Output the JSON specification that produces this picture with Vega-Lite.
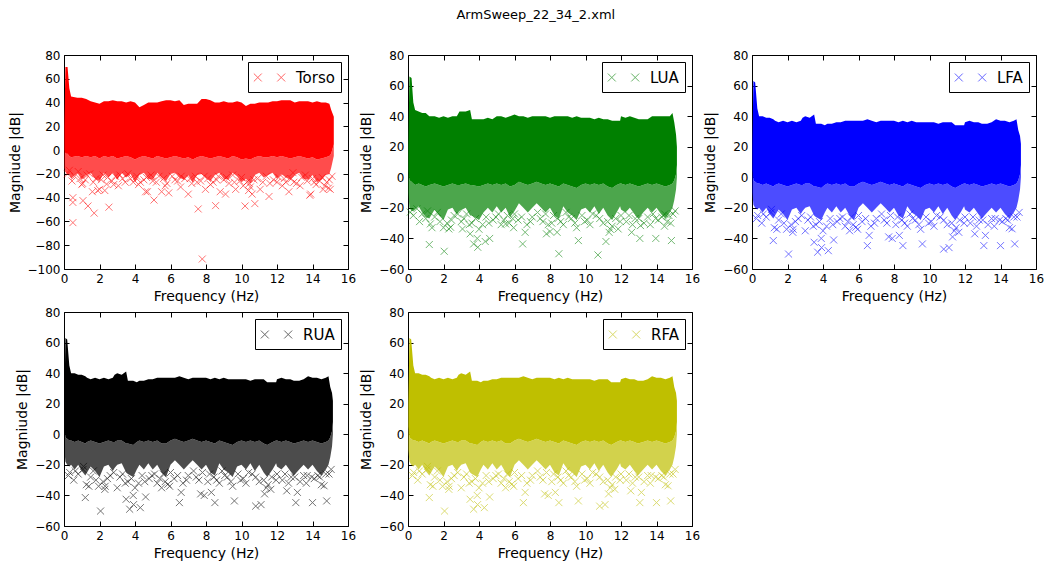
{
  "$schema": "https://vega.github.io/schema/vega-lite/v6.json",
  "background": "white",
  "padding": {"left": 7, "top": 8, "right": 0, "bottom": 0},
  "title": {"text": "ArmSweep_22_34_2.xml", "fontSize": 13, "fontWeight": "normal", "font": "DejaVu Sans", "color": "black", "anchor": "middle", "offset": 27, "dx": 10},
  "config": {
    "font": "DejaVu Sans",
    "view": {"stroke": "black", "strokeWidth": 1},
    "axis": {"labelFontSize": 12, "labelColor": "black", "titleFontSize": 14, "titleColor": "black", "titleFontWeight": "normal", "tickColor": "black", "tickSize": -5, "tickWidth": 1, "domain": false, "grid": false, "labelPadding": 9, "titlePadding": 5, "labelFlush": false},
    "legend": {"orient": "top-right", "offset": 7, "title": null, "strokeColor": "black", "strokeWidth": 1, "fillColor": "white", "padding": 6, "cornerRadius": 0, "labelFontSize": 15, "labelColor": "black", "labelFont": "DejaVu Sans", "symbolType": "M-1.74,-0.44L-0.86,0.44M-1.74,0.44L-0.86,-0.44M0.86,-0.44L1.74,0.44M0.86,0.44L1.74,-0.44", "symbolSize": 324, "symbolStrokeWidth": 1, "symbolOpacity": 0.6, "symbolOffset": 6, "labelOffset": 17}
  },
  "datasets": {
    "torsoBand": [
      {"f":0.02,"hi":20,"m":0,"l":-15},{"f":0.08,"hi":70,"m":-3,"l":-18},{"f":0.2,"hi":70,"m":-3,"l":-20},{"f":0.3,"hi":52,"m":-5,"l":-20},{"f":0.4,"hi":45,"m":-6,"l":-24},
      {"f":0.75,"hi":44,"m":-5,"l":-19},{"f":1.0,"hi":44,"m":-6,"l":-25},{"f":1.25,"hi":43,"m":-5,"l":-21},{"f":1.5,"hi":41,"m":-6,"l":-19},{"f":1.75,"hi":40,"m":-5,"l":-24},
      {"f":2.0,"hi":39,"m":-7,"l":-26},{"f":2.25,"hi":41,"m":-5,"l":-19},{"f":2.5,"hi":41,"m":-6,"l":-23},{"f":2.75,"hi":42,"m":-5,"l":-19},{"f":3.0,"hi":41,"m":-7,"l":-25},
      {"f":3.25,"hi":41,"m":-6,"l":-19},{"f":3.5,"hi":40,"m":-5,"l":-23},{"f":3.75,"hi":41,"m":-6,"l":-20},{"f":4.0,"hi":40,"m":-8,"l":-27},{"f":4.25,"hi":36,"m":-6,"l":-21},
      {"f":4.5,"hi":38,"m":-5,"l":-19},{"f":4.75,"hi":40,"m":-6,"l":-24},{"f":5.0,"hi":40,"m":-7,"l":-25},{"f":5.25,"hi":40,"m":-5,"l":-19},{"f":5.5,"hi":41,"m":-6,"l":-23},
      {"f":5.75,"hi":42,"m":-7,"l":-26},{"f":6.0,"hi":42,"m":-6,"l":-20},{"f":6.25,"hi":41,"m":-5,"l":-19},{"f":6.5,"hi":42,"m":-6,"l":-23},{"f":6.75,"hi":38,"m":-7,"l":-25},
      {"f":7.0,"hi":39,"m":-6,"l":-21},{"f":7.25,"hi":39,"m":-8,"l":-27},{"f":7.5,"hi":39,"m":-6,"l":-21},{"f":7.75,"hi":43,"m":-5,"l":-20},{"f":8.0,"hi":43,"m":-6,"l":-23},
      {"f":8.25,"hi":42,"m":-7,"l":-26},{"f":8.5,"hi":40,"m":-6,"l":-21},{"f":8.75,"hi":40,"m":-5,"l":-19},{"f":9.0,"hi":41,"m":-6,"l":-24},{"f":9.25,"hi":40,"m":-7,"l":-25},
      {"f":9.5,"hi":40,"m":-5,"l":-19},{"f":9.75,"hi":41,"m":-6,"l":-22},{"f":10.0,"hi":40,"m":-8,"l":-27},{"f":10.25,"hi":37,"m":-7,"l":-24},{"f":10.5,"hi":39,"m":-8,"l":-28},
      {"f":10.75,"hi":39,"m":-6,"l":-21},{"f":11.0,"hi":40,"m":-5,"l":-19},{"f":11.25,"hi":40,"m":-6,"l":-23},{"f":11.5,"hi":40,"m":-6,"l":-21},{"f":11.75,"hi":41,"m":-5,"l":-19},
      {"f":12.0,"hi":41,"m":-6,"l":-24},{"f":12.25,"hi":42,"m":-5,"l":-20},{"f":12.5,"hi":42,"m":-6,"l":-23},{"f":12.75,"hi":42,"m":-7,"l":-25},{"f":13.0,"hi":40,"m":-6,"l":-21},
      {"f":13.25,"hi":41,"m":-5,"l":-19},{"f":13.5,"hi":41,"m":-6,"l":-24},{"f":13.75,"hi":41,"m":-7,"l":-25},{"f":14.0,"hi":40,"m":-6,"l":-21},{"f":14.25,"hi":41,"m":-8,"l":-27},
      {"f":14.5,"hi":40,"m":-7,"l":-25},{"f":14.75,"hi":40,"m":-6,"l":-21},{"f":14.95,"hi":39,"m":-5,"l":-20},{"f":15.05,"hi":34,"m":-3,"l":-15},{"f":15.2,"hi":28,"m":5,"l":-5}
    ],
    "luaBand": [
      {"f":0.02,"hi":20,"m":5,"l":-10},{"f":0.08,"hi":66,"m":-2,"l":-20},{"f":0.2,"hi":65,"m":-3,"l":-22},{"f":0.3,"hi":49,"m":-4,"l":-22},{"f":0.4,"hi":44,"m":-5,"l":-21},
      {"f":0.6,"hi":43,"m":-4,"l":-19},{"f":0.8,"hi":42,"m":-5,"l":-23},{"f":1.0,"hi":42,"m":-6,"l":-26},{"f":1.2,"hi":40,"m":-5,"l":-27},{"f":1.5,"hi":40,"m":-4,"l":-21},
      {"f":1.75,"hi":39,"m":-5,"l":-25},{"f":2.0,"hi":40,"m":-6,"l":-28},{"f":2.25,"hi":39,"m":-5,"l":-21},{"f":2.5,"hi":40,"m":-4,"l":-20},{"f":2.75,"hi":40,"m":-5,"l":-24},
      {"f":2.9,"hi":43,"m":-5,"l":-22},{"f":3.25,"hi":43,"m":-4,"l":-20},{"f":3.5,"hi":44,"m":-5,"l":-25},{"f":3.6,"hi":38,"m":-5,"l":-25},{"f":4.0,"hi":38,"m":-6,"l":-28},
      {"f":4.25,"hi":38,"m":-5,"l":-23},{"f":4.5,"hi":39,"m":-4,"l":-20},{"f":4.75,"hi":38,"m":-5,"l":-23},{"f":5.0,"hi":40,"m":-4,"l":-19},{"f":5.25,"hi":40,"m":-5,"l":-23},
      {"f":5.5,"hi":39,"m":-4,"l":-20},{"f":5.75,"hi":40,"m":-6,"l":-26},{"f":6.0,"hi":41,"m":-5,"l":-22},{"f":6.25,"hi":40,"m":-3,"l":-17},{"f":6.5,"hi":40,"m":-4,"l":-20},
      {"f":6.75,"hi":39,"m":-5,"l":-23},{"f":7.0,"hi":40,"m":-4,"l":-20},{"f":7.25,"hi":40,"m":-3,"l":-17},{"f":7.5,"hi":40,"m":-4,"l":-20},{"f":7.75,"hi":40,"m":-5,"l":-23},
      {"f":8.0,"hi":39,"m":-4,"l":-20},{"f":8.25,"hi":40,"m":-5,"l":-25},{"f":8.5,"hi":40,"m":-6,"l":-27},{"f":8.75,"hi":40,"m":-4,"l":-19},{"f":9.0,"hi":40,"m":-5,"l":-23},
      {"f":9.25,"hi":39,"m":-6,"l":-25},{"f":9.5,"hi":40,"m":-7,"l":-28},{"f":9.75,"hi":39,"m":-5,"l":-21},{"f":10.0,"hi":39,"m":-4,"l":-20},{"f":10.25,"hi":39,"m":-5,"l":-23},
      {"f":10.5,"hi":38,"m":-4,"l":-19},{"f":10.75,"hi":39,"m":-5,"l":-24},{"f":11.0,"hi":38,"m":-4,"l":-20},{"f":11.25,"hi":38,"m":-6,"l":-25},{"f":11.5,"hi":37,"m":-7,"l":-28},
      {"f":11.75,"hi":37,"m":-5,"l":-23},{"f":11.95,"hi":37,"m":-4,"l":-19},{"f":12.0,"hi":40,"m":-4,"l":-21},{"f":12.25,"hi":39,"m":-5,"l":-23},{"f":12.5,"hi":40,"m":-4,"l":-20},
      {"f":12.75,"hi":39,"m":-5,"l":-24},{"f":13.0,"hi":38,"m":-6,"l":-27},{"f":13.25,"hi":38,"m":-5,"l":-23},{"f":13.5,"hi":38,"m":-4,"l":-20},{"f":13.75,"hi":40,"m":-5,"l":-23},
      {"f":14.0,"hi":40,"m":-4,"l":-20},{"f":14.25,"hi":40,"m":-5,"l":-24},{"f":14.5,"hi":40,"m":-6,"l":-27},{"f":14.75,"hi":40,"m":-5,"l":-23},{"f":14.9,"hi":42,"m":-4,"l":-20},
      {"f":15.0,"hi":36,"m":-2,"l":-15},{"f":15.1,"hi":28,"m":2,"l":-8},{"f":15.15,"hi":20,"m":8,"l":0}
    ],
    "armBand": [
      {"f":0.02,"hi":20,"m":5,"l":-10},{"f":0.08,"hi":63,"m":-2,"l":-18},{"f":0.18,"hi":62,"m":-3,"l":-20},{"f":0.3,"hi":45,"m":-4,"l":-21},{"f":0.4,"hi":40,"m":-4,"l":-20},
      {"f":0.6,"hi":40,"m":-5,"l":-23},{"f":0.8,"hi":39,"m":-4,"l":-20},{"f":1.0,"hi":39,"m":-5,"l":-24},{"f":1.2,"hi":38,"m":-6,"l":-27},{"f":1.3,"hi":37,"m":-5,"l":-25},
      {"f":1.5,"hi":36,"m":-4,"l":-21},{"f":1.75,"hi":37,"m":-5,"l":-24},{"f":2.0,"hi":36,"m":-6,"l":-28},{"f":2.25,"hi":37,"m":-5,"l":-21},{"f":2.5,"hi":36,"m":-4,"l":-20},
      {"f":2.75,"hi":37,"m":-5,"l":-24},{"f":2.85,"hi":39,"m":-5,"l":-22},{"f":3.0,"hi":40,"m":-4,"l":-20},{"f":3.25,"hi":39,"m":-4,"l":-19},{"f":3.5,"hi":41,"m":-6,"l":-25},
      {"f":3.6,"hi":35,"m":-6,"l":-26},{"f":3.9,"hi":35,"m":-7,"l":-28},{"f":4.1,"hi":34,"m":-5,"l":-23},{"f":4.25,"hi":35,"m":-4,"l":-20},{"f":4.5,"hi":35,"m":-5,"l":-23},
      {"f":4.75,"hi":36,"m":-4,"l":-19},{"f":5.0,"hi":36,"m":-5,"l":-23},{"f":5.25,"hi":37,"m":-4,"l":-20},{"f":5.5,"hi":37,"m":-6,"l":-25},{"f":5.75,"hi":37,"m":-6,"l":-28},
      {"f":6.0,"hi":37,"m":-4,"l":-20},{"f":6.25,"hi":37,"m":-3,"l":-17},{"f":6.5,"hi":38,"m":-4,"l":-20},{"f":6.75,"hi":37,"m":-5,"l":-23},{"f":7.0,"hi":36,"m":-4,"l":-20},
      {"f":7.25,"hi":37,"m":-3,"l":-17},{"f":7.5,"hi":37,"m":-4,"l":-20},{"f":7.75,"hi":37,"m":-5,"l":-23},{"f":8.0,"hi":37,"m":-4,"l":-20},{"f":8.25,"hi":36,"m":-5,"l":-25},
      {"f":8.5,"hi":37,"m":-6,"l":-27},{"f":8.75,"hi":36,"m":-4,"l":-19},{"f":9.0,"hi":37,"m":-5,"l":-23},{"f":9.25,"hi":36,"m":-6,"l":-25},{"f":9.5,"hi":36,"m":-7,"l":-28},
      {"f":9.75,"hi":36,"m":-5,"l":-21},{"f":10.0,"hi":36,"m":-4,"l":-20},{"f":10.25,"hi":36,"m":-5,"l":-23},{"f":10.5,"hi":35,"m":-4,"l":-19},{"f":10.75,"hi":36,"m":-5,"l":-24},
      {"f":11.0,"hi":36,"m":-4,"l":-20},{"f":11.25,"hi":36,"m":-6,"l":-25},{"f":11.45,"hi":34,"m":-7,"l":-28},{"f":11.75,"hi":34,"m":-5,"l":-23},{"f":11.95,"hi":34,"m":-4,"l":-19},
      {"f":12.0,"hi":36,"m":-4,"l":-21},{"f":12.25,"hi":37,"m":-5,"l":-23},{"f":12.5,"hi":36,"m":-4,"l":-20},{"f":12.75,"hi":36,"m":-5,"l":-24},{"f":12.95,"hi":35,"m":-6,"l":-27},
      {"f":13.25,"hi":35,"m":-5,"l":-23},{"f":13.5,"hi":36,"m":-4,"l":-20},{"f":13.75,"hi":38,"m":-5,"l":-23},{"f":14.0,"hi":37,"m":-4,"l":-20},{"f":14.25,"hi":37,"m":-5,"l":-24},
      {"f":14.5,"hi":36,"m":-6,"l":-27},{"f":14.75,"hi":37,"m":-5,"l":-23},{"f":14.9,"hi":38,"m":-4,"l":-20},{"f":15.0,"hi":31,"m":-2,"l":-15},{"f":15.1,"hi":27,"m":2,"l":-8},
      {"f":15.15,"hi":22,"m":8,"l":0}
    ],
    "torsoPts": [
      {"f":0.5,"y":-61},{"f":0.5,"y":-44},{"f":0.5,"y":-40},{"f":1.07,"y":-42.5},{"f":1.0,"y":-29},{"f":1.35,"y":-47},{"f":1.6,"y":-35},{"f":1.7,"y":-53},{"f":1.9,"y":-34},{"f":2.0,"y":-33},
      {"f":2.3,"y":-34},{"f":2.4,"y":-28.6},{"f":2.53,"y":-48},{"f":1.05,"y":-28},{"f":3.06,"y":-30},{"f":4.3,"y":-27},{"f":4.6,"y":-35},{"f":4.7,"y":-35},{"f":5.07,"y":-42},{"f":5.5,"y":-35},
      {"f":5.9,"y":-36},{"f":6.57,"y":-31},{"f":7.0,"y":-37},{"f":7.56,"y":-49.5},{"f":7.97,"y":-33},{"f":8.54,"y":-46.7},{"f":7.79,"y":-91.6},{"f":8.8,"y":-35},{"f":9.1,"y":-37},{"f":9.67,"y":-33},
      {"f":10.2,"y":-47},{"f":10.4,"y":-34},{"f":10.6,"y":-37},{"f":10.75,"y":-45},{"f":11.55,"y":-39},{"f":12.3,"y":-30},{"f":12.67,"y":-35},{"f":12.9,"y":-19},{"f":13.85,"y":-38},{"f":13.9,"y":-37},
      {"f":14.6,"y":-33},{"f":14.7,"y":-30},{"f":14.9,"y":-32},{"f":15.0,"y":-33},
      {"f":0.3,"y":-17},{"f":0.6,"y":-22},{"f":0.8,"y":-18},{"f":1.2,"y":-25},{"f":1.45,"y":-20},{"f":1.8,"y":-24},{"f":2.2,"y":-21},{"f":2.7,"y":-26},{"f":2.9,"y":-22},{"f":3.3,"y":-24},
      {"f":3.6,"y":-20},{"f":3.9,"y":-27},{"f":4.1,"y":-22},{"f":4.5,"y":-25},{"f":4.9,"y":-21},{"f":5.2,"y":-27},{"f":5.6,"y":-24},{"f":5.8,"y":-28},{"f":6.1,"y":-22},{"f":6.4,"y":-26},
      {"f":6.8,"y":-24},{"f":7.2,"y":-28},{"f":7.4,"y":-22},{"f":7.7,"y":-26},{"f":8.1,"y":-24},{"f":8.4,"y":-27},{"f":8.7,"y":-22},{"f":9.0,"y":-25},{"f":9.3,"y":-28},{"f":9.5,"y":-21},
      {"f":9.9,"y":-26},{"f":10.1,"y":-30},{"f":10.3,"y":-27},{"f":10.5,"y":-31},{"f":10.9,"y":-24},{"f":11.2,"y":-27},{"f":11.4,"y":-22},{"f":11.8,"y":-25},{"f":12.1,"y":-23},{"f":12.5,"y":-27},
      {"f":12.8,"y":-24},{"f":13.1,"y":-28},{"f":13.4,"y":-23},{"f":13.7,"y":-26},{"f":14.0,"y":-24},{"f":14.2,"y":-29},{"f":14.4,"y":-26},{"f":14.8,"y":-27},{"f":15.1,"y":-22},
      {"f":0.2,"y":-20},{"f":0.45,"y":-26},{"f":0.9,"y":-24},{"f":1.3,"y":-21},{"f":1.65,"y":-27},{"f":2.1,"y":-25},{"f":2.45,"y":-23},{"f":2.8,"y":-29},{"f":3.15,"y":-21},{"f":3.45,"y":-27},
      {"f":3.75,"y":-24},{"f":4.2,"y":-29},{"f":4.65,"y":-23},{"f":5.0,"y":-26},{"f":5.35,"y":-22},{"f":5.7,"y":-30},{"f":6.25,"y":-25},{"f":6.6,"y":-22},{"f":7.1,"y":-24},{"f":7.5,"y":-27},
      {"f":7.9,"y":-22},{"f":8.25,"y":-29},{"f":8.6,"y":-25},{"f":9.15,"y":-23},{"f":9.6,"y":-27},{"f":10.0,"y":-23},{"f":10.45,"y":-28},{"f":10.7,"y":-25},{"f":11.05,"y":-33},{"f":11.6,"y":-28},
      {"f":12.0,"y":-27},{"f":12.4,"y":-24},{"f":12.95,"y":-27},{"f":13.3,"y":-30},{"f":13.6,"y":-21},{"f":14.1,"y":-27},{"f":14.55,"y":-23},{"f":14.95,"y":-25}
    ],
    "luaPts": [
      {"f":0.13,"y":-22.8},{"f":0.5,"y":-20.6},{"f":1.2,"y":-44},{"f":2.04,"y":-48.4},{"f":1.26,"y":-30.5},{"f":2.3,"y":-33.8},{"f":2.4,"y":-32.7},{"f":3.07,"y":-33.8},{"f":3.5,"y":-37},{"f":3.7,"y":-43.6},
      {"f":3.9,"y":-40},{"f":3.93,"y":-45.8},{"f":4.35,"y":-42},{"f":4.6,"y":-40},{"f":5.5,"y":-30.5},{"f":5.9,"y":-27},{"f":6.46,"y":-43.6},{"f":6.6,"y":-36},{"f":7.8,"y":-37},{"f":8.0,"y":-35.5},
      {"f":8.4,"y":-36},{"f":8.5,"y":-50},{"f":9.6,"y":-41.4},{"f":10.7,"y":-50.8},{"f":11.15,"y":-42},{"f":11.33,"y":-36},{"f":11.84,"y":-33.8},{"f":12.6,"y":-36},{"f":13.06,"y":-40},{"f":13.1,"y":-31.6},
      {"f":13.96,"y":-40},{"f":14.46,"y":-24},{"f":14.84,"y":-41.4},{"f":14.93,"y":-24},
      {"f":0.8,"y":-24},{"f":1.0,"y":-27},{"f":1.5,"y":-26},{"f":1.8,"y":-29},{"f":2.2,"y":-30},{"f":2.6,"y":-25},{"f":3.0,"y":-29},{"f":3.3,"y":-24},{"f":3.6,"y":-30},{"f":3.8,"y":-27},
      {"f":4.2,"y":-31},{"f":4.4,"y":-26},{"f":4.8,"y":-28},{"f":5.1,"y":-24},{"f":5.4,"y":-28},{"f":5.7,"y":-30},{"f":6.0,"y":-24},{"f":6.2,"y":-28},{"f":6.7,"y":-31},{"f":7.0,"y":-26},
      {"f":7.3,"y":-23},{"f":7.6,"y":-29},{"f":7.9,"y":-31},{"f":8.2,"y":-25},{"f":8.6,"y":-29},{"f":8.9,"y":-23},{"f":9.2,"y":-27},{"f":9.4,"y":-30},{"f":9.8,"y":-25},{"f":10.1,"y":-28},
      {"f":10.4,"y":-24},{"f":10.8,"y":-27},{"f":11.0,"y":-30},{"f":11.5,"y":-32},{"f":11.7,"y":-27},{"f":12.0,"y":-25},{"f":12.3,"y":-29},{"f":12.8,"y":-27},{"f":13.3,"y":-30},{"f":13.5,"y":-26},
      {"f":13.8,"y":-24},{"f":14.1,"y":-28},{"f":14.3,"y":-26},{"f":14.6,"y":-29},{"f":14.8,"y":-30},{"f":15.05,"y":-22},
      {"f":0.3,"y":-25},{"f":0.65,"y":-29},{"f":1.1,"y":-22},{"f":1.35,"y":-33},{"f":1.65,"y":-23},{"f":2.0,"y":-33},{"f":2.45,"y":-28},{"f":2.8,"y":-24},{"f":3.15,"y":-27},{"f":3.45,"y":-31},
      {"f":4.0,"y":-34},{"f":4.55,"y":-30},{"f":4.95,"y":-26},{"f":5.25,"y":-31},{"f":5.6,"y":-25},{"f":5.95,"y":-33},{"f":6.4,"y":-26},{"f":6.9,"y":-29},{"f":7.45,"y":-27},{"f":7.75,"y":-24},
      {"f":8.1,"y":-30},{"f":8.45,"y":-27},{"f":8.75,"y":-31},{"f":9.05,"y":-26},{"f":9.5,"y":-33},{"f":9.95,"y":-29},{"f":10.25,"y":-31},{"f":10.6,"y":-25},{"f":11.25,"y":-29},{"f":11.4,"y":-34},
      {"f":11.95,"y":-29},{"f":12.45,"y":-25},{"f":12.65,"y":-31},{"f":13.0,"y":-27},{"f":13.65,"y":-31},{"f":13.95,"y":-27},{"f":14.45,"y":-32},{"f":14.7,"y":-25}
    ],
    "armPts": [
      {"f":0.32,"y":-25},{"f":0.64,"y":-24},{"f":1.07,"y":-23},{"f":1.2,"y":-41.4},{"f":1.26,"y":-33},{"f":2.06,"y":-50.2},{"f":2.3,"y":-36},{"f":2.32,"y":-34},{"f":3.0,"y":-35},{"f":3.5,"y":-42.5},
      {"f":3.7,"y":-49},{"f":3.9,"y":-40},{"f":3.92,"y":-46},{"f":4.3,"y":-48},{"f":4.6,"y":-41},{"f":5.5,"y":-35},{"f":5.85,"y":-32.7},{"f":6.5,"y":-44.7},{"f":6.6,"y":-38},{"f":7.7,"y":-39},
      {"f":7.9,"y":-40},{"f":8.3,"y":-38},{"f":8.5,"y":-44.7},{"f":9.6,"y":-43.6},{"f":10.8,"y":-47},{"f":11.1,"y":-46},{"f":11.3,"y":-39},{"f":11.65,"y":-36},{"f":12.55,"y":-37},{"f":13.06,"y":-44.7},
      {"f":13.15,"y":-38},{"f":13.7,"y":-27},{"f":14.0,"y":-44.7},{"f":14.4,"y":-28},{"f":14.65,"y":-33.7},{"f":14.8,"y":-43.6},{"f":14.93,"y":-26},
      {"f":0.8,"y":-26},{"f":1.5,"y":-28},{"f":1.8,"y":-30},{"f":2.2,"y":-31},{"f":2.6,"y":-27},{"f":3.3,"y":-26},{"f":3.6,"y":-31},{"f":3.8,"y":-29},{"f":4.2,"y":-32},{"f":4.4,"y":-27},
      {"f":4.8,"y":-29},{"f":5.1,"y":-26},{"f":5.4,"y":-29},{"f":5.7,"y":-31},{"f":6.0,"y":-25},{"f":6.2,"y":-29},{"f":6.7,"y":-32},{"f":7.0,"y":-27},{"f":7.3,"y":-24},{"f":7.6,"y":-30},
      {"f":8.2,"y":-26},{"f":8.6,"y":-30},{"f":8.9,"y":-24},{"f":9.2,"y":-28},{"f":9.4,"y":-31},{"f":9.8,"y":-26},{"f":10.1,"y":-29},{"f":10.4,"y":-25},{"f":10.8,"y":-28},{"f":11.0,"y":-31},
      {"f":11.5,"y":-33},{"f":11.7,"y":-28},{"f":12.0,"y":-26},{"f":12.3,"y":-30},{"f":12.8,"y":-28},{"f":13.3,"y":-31},{"f":13.5,"y":-27},{"f":14.1,"y":-29},{"f":14.3,"y":-27},{"f":15.05,"y":-23},
      {"f":0.25,"y":-27},{"f":0.55,"y":-30},{"f":1.1,"y":-21},{"f":1.4,"y":-34},{"f":1.65,"y":-24},{"f":1.95,"y":-34},{"f":2.45,"y":-29},{"f":2.8,"y":-25},{"f":3.15,"y":-28},{"f":3.45,"y":-32},
      {"f":4.0,"y":-35},{"f":4.55,"y":-31},{"f":4.95,"y":-27},{"f":5.25,"y":-32},{"f":5.6,"y":-26},{"f":5.95,"y":-34},{"f":6.4,"y":-27},{"f":6.9,"y":-30},{"f":7.45,"y":-28},{"f":7.8,"y":-25},
      {"f":8.1,"y":-31},{"f":8.45,"y":-28},{"f":8.75,"y":-32},{"f":9.05,"y":-27},{"f":9.5,"y":-34},{"f":9.95,"y":-30},{"f":10.25,"y":-32},{"f":10.6,"y":-26},{"f":11.25,"y":-30},{"f":11.4,"y":-35},
      {"f":11.95,"y":-30},{"f":12.45,"y":-26},{"f":12.65,"y":-32},{"f":13.0,"y":-28},{"f":13.65,"y":-32},{"f":13.95,"y":-28},{"f":14.5,"y":-33},{"f":14.75,"y":-26}
    ]
  },
  "columns": 3,
  "spacing": {"column": 2, "row": 1},
  "resolve": {"scale": {"color": "independent"}, "legend": {"color": "independent"}},
  "concat": [
    {
      "width": 284, "height": 214,
      "layer": [
        {"data": {"name": "torsoBand"}, "mark": {"type": "area", "color": "#ff0000", "opacity": 0.7},
         "encoding": {
           "x": {"field": "f", "type": "quantitative", "scale": {"domain": [0, 16], "nice": false}, "axis": {"orient": "bottom", "values": [0,2,4,6,8,10,12,14,16], "title": "Frequency (Hz)"}},
           "y": {"field": "l", "type": "quantitative", "scale": {"domain": [-100, 80], "nice": false}, "axis": {"orient": "left", "values": [-100,-80,-60,-40,-20,0,20,40,60,80], "title": "Magniude |dB|"}},
           "y2": {"field": "m"}}},
        {"data": {"name": "torsoBand"}, "mark": {"type": "area", "color": "#ff0000"},
         "encoding": {
           "x": {"field": "f", "type": "quantitative", "axis": {"orient": "top", "values": [0,2,4,6,8,10,12,14,16], "labels": false, "title": null}},
           "y": {"field": "m", "type": "quantitative", "axis": {"orient": "right", "values": [-100,-80,-60,-40,-20,0,20,40,60,80], "labels": false, "title": null}},
           "y2": {"field": "hi"}}},
        {"data": {"name": "torsoPts"}, "mark": {"type": "point", "shape": "M-1,-1L1,1M-1,1L1,-1", "filled": false, "size": 49, "strokeWidth": 1, "opacity": 0.55},
         "encoding": {
           "x": {"field": "f", "type": "quantitative", "axis": null},
           "y": {"field": "y", "type": "quantitative", "axis": null},
           "color": {"datum": "Torso", "type": "nominal", "scale": {"domain": ["Torso"], "range": ["#ff0000"]}}}}
      ],
      "resolve": {"axis": {"x": "independent", "y": "independent"}}
    },
    {
      "width": 284, "height": 214,
      "layer": [
        {"data": {"name": "luaBand"}, "mark": {"type": "area", "color": "#008000", "opacity": 0.7},
         "encoding": {
           "x": {"field": "f", "type": "quantitative", "scale": {"domain": [0, 16], "nice": false}, "axis": {"orient": "bottom", "values": [0,2,4,6,8,10,12,14,16], "title": "Frequency (Hz)"}},
           "y": {"field": "l", "type": "quantitative", "scale": {"domain": [-60, 80], "nice": false}, "axis": {"orient": "left", "values": [-60,-40,-20,0,20,40,60,80], "title": "Magniude |dB|"}},
           "y2": {"field": "m"}}},
        {"data": {"name": "luaBand"}, "mark": {"type": "area", "color": "#008000"},
         "encoding": {
           "x": {"field": "f", "type": "quantitative", "axis": {"orient": "top", "values": [0,2,4,6,8,10,12,14,16], "labels": false, "title": null}},
           "y": {"field": "m", "type": "quantitative", "axis": {"orient": "right", "values": [-60,-40,-20,0,20,40,60,80], "labels": false, "title": null}},
           "y2": {"field": "hi"}}},
        {"data": {"name": "luaPts"}, "mark": {"type": "point", "shape": "M-1,-1L1,1M-1,1L1,-1", "filled": false, "size": 49, "strokeWidth": 1, "opacity": 0.55},
         "encoding": {
           "x": {"field": "f", "type": "quantitative", "axis": null},
           "y": {"field": "y", "type": "quantitative", "axis": null},
           "color": {"datum": "LUA", "type": "nominal", "scale": {"domain": ["LUA"], "range": ["#008000"]}}}}
      ],
      "resolve": {"axis": {"x": "independent", "y": "independent"}}
    },
    {
      "width": 284, "height": 214,
      "layer": [
        {"data": {"name": "armBand"}, "mark": {"type": "area", "color": "#0000ff", "opacity": 0.7},
         "encoding": {
           "x": {"field": "f", "type": "quantitative", "scale": {"domain": [0, 16], "nice": false}, "axis": {"orient": "bottom", "values": [0,2,4,6,8,10,12,14,16], "title": "Frequency (Hz)"}},
           "y": {"field": "l", "type": "quantitative", "scale": {"domain": [-60, 80], "nice": false}, "axis": {"orient": "left", "values": [-60,-40,-20,0,20,40,60,80], "title": "Magniude |dB|"}},
           "y2": {"field": "m"}}},
        {"data": {"name": "armBand"}, "mark": {"type": "area", "color": "#0000ff"},
         "encoding": {
           "x": {"field": "f", "type": "quantitative", "axis": {"orient": "top", "values": [0,2,4,6,8,10,12,14,16], "labels": false, "title": null}},
           "y": {"field": "m", "type": "quantitative", "axis": {"orient": "right", "values": [-60,-40,-20,0,20,40,60,80], "labels": false, "title": null}},
           "y2": {"field": "hi"}}},
        {"data": {"name": "armPts"}, "mark": {"type": "point", "shape": "M-1,-1L1,1M-1,1L1,-1", "filled": false, "size": 49, "strokeWidth": 1, "opacity": 0.55},
         "encoding": {
           "x": {"field": "f", "type": "quantitative", "axis": null},
           "y": {"field": "y", "type": "quantitative", "axis": null},
           "color": {"datum": "LFA", "type": "nominal", "scale": {"domain": ["LFA"], "range": ["#0000ff"]}}}}
      ],
      "resolve": {"axis": {"x": "independent", "y": "independent"}}
    },
    {
      "width": 284, "height": 214,
      "layer": [
        {"data": {"name": "armBand"}, "mark": {"type": "area", "color": "#000000", "opacity": 0.7},
         "encoding": {
           "x": {"field": "f", "type": "quantitative", "scale": {"domain": [0, 16], "nice": false}, "axis": {"orient": "bottom", "values": [0,2,4,6,8,10,12,14,16], "title": "Frequency (Hz)"}},
           "y": {"field": "l", "type": "quantitative", "scale": {"domain": [-60, 80], "nice": false}, "axis": {"orient": "left", "values": [-60,-40,-20,0,20,40,60,80], "title": "Magniude |dB|"}},
           "y2": {"field": "m"}}},
        {"data": {"name": "armBand"}, "mark": {"type": "area", "color": "#000000"},
         "encoding": {
           "x": {"field": "f", "type": "quantitative", "axis": {"orient": "top", "values": [0,2,4,6,8,10,12,14,16], "labels": false, "title": null}},
           "y": {"field": "m", "type": "quantitative", "axis": {"orient": "right", "values": [-60,-40,-20,0,20,40,60,80], "labels": false, "title": null}},
           "y2": {"field": "hi"}}},
        {"data": {"name": "armPts"}, "mark": {"type": "point", "shape": "M-1,-1L1,1M-1,1L1,-1", "filled": false, "size": 49, "strokeWidth": 1, "opacity": 0.55},
         "encoding": {
           "x": {"field": "f", "type": "quantitative", "axis": null},
           "y": {"field": "y", "type": "quantitative", "axis": null},
           "color": {"datum": "RUA", "type": "nominal", "scale": {"domain": ["RUA"], "range": ["#000000"]}}}}
      ],
      "resolve": {"axis": {"x": "independent", "y": "independent"}}
    },
    {
      "width": 284, "height": 214,
      "layer": [
        {"data": {"name": "armBand"}, "mark": {"type": "area", "color": "#bfbf00", "opacity": 0.7},
         "encoding": {
           "x": {"field": "f", "type": "quantitative", "scale": {"domain": [0, 16], "nice": false}, "axis": {"orient": "bottom", "values": [0,2,4,6,8,10,12,14,16], "title": "Frequency (Hz)"}},
           "y": {"field": "l", "type": "quantitative", "scale": {"domain": [-60, 80], "nice": false}, "axis": {"orient": "left", "values": [-60,-40,-20,0,20,40,60,80], "title": "Magniude |dB|"}},
           "y2": {"field": "m"}}},
        {"data": {"name": "armBand"}, "mark": {"type": "area", "color": "#bfbf00"},
         "encoding": {
           "x": {"field": "f", "type": "quantitative", "axis": {"orient": "top", "values": [0,2,4,6,8,10,12,14,16], "labels": false, "title": null}},
           "y": {"field": "m", "type": "quantitative", "axis": {"orient": "right", "values": [-60,-40,-20,0,20,40,60,80], "labels": false, "title": null}},
           "y2": {"field": "hi"}}},
        {"data": {"name": "armPts"}, "mark": {"type": "point", "shape": "M-1,-1L1,1M-1,1L1,-1", "filled": false, "size": 49, "strokeWidth": 1, "opacity": 0.55},
         "encoding": {
           "x": {"field": "f", "type": "quantitative", "axis": null},
           "y": {"field": "y", "type": "quantitative", "axis": null},
           "color": {"datum": "RFA", "type": "nominal", "scale": {"domain": ["RFA"], "range": ["#bfbf00"]}}}}
      ],
      "resolve": {"axis": {"x": "independent", "y": "independent"}}
    }
  ]
}
